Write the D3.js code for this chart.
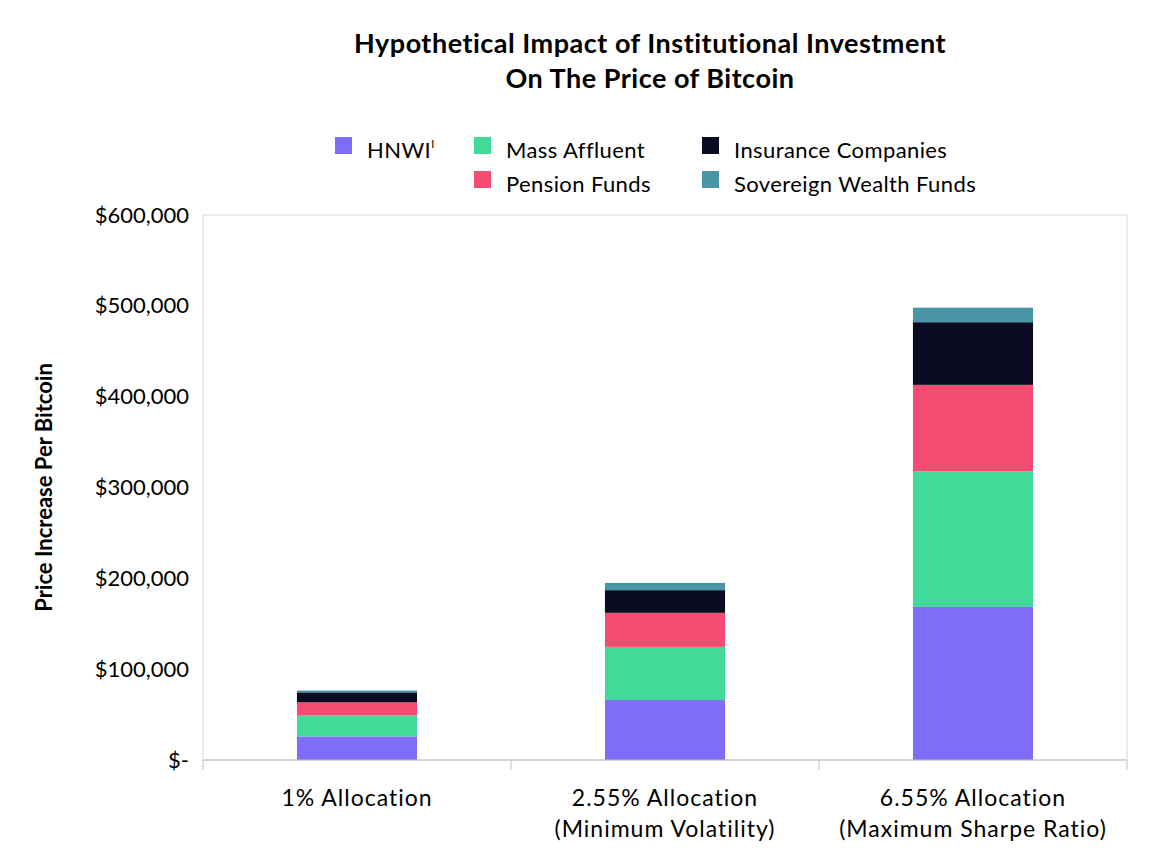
<!DOCTYPE html>
<html><head><meta charset="utf-8">
<script src="https://cdn.jsdelivr.net/npm/d3@7"></script>
<style>body{margin:0;background:#fff;font-family:Lato,"Open Sans",sans-serif}</style>
</head><body><svg id="chart" width="1154" height="866"></svg>
<script>
// chart values
var categories = ['1% Allocation', '2.55% Allocation\n(Minimum Volatility)', '6.55% Allocation\n(Maximum Sharpe Ratio)'];
var seriesNames = ['HNWI', 'Mass Affluent', 'Pension Funds', 'Insurance Companies', 'Sovereign Wealth Funds'];
var seriesColors = ['#7f6cf7', '#43d998', '#f54d72', '#0b0c22', '#4a96a8'];
var hnwi       = [26000, 66000, 168500];
var massAff    = [23000, 58500, 149500];
var pension    = [14500, 37500, 95000];
var insurance  = [11000, 25000, 69000];
var sovereign  = [2000, 8000, 16000];
var yTicks = [0, 100000, 200000, 300000, 400000, 500000, 600000];

(function () {
var svg = d3.select('#chart');
var pLeft = 203, pRight = 1127, pTop = 215, pBottom = 760;

var rows = categories.map((c, i) => ({cat: c, HNWI: hnwi[i], 'Mass Affluent': massAff[i],
  'Pension Funds': pension[i], 'Insurance Companies': insurance[i], 'Sovereign Wealth Funds': sovereign[i]}));
var stacked = d3.stack().keys(seriesNames)(rows);

var x = d3.scaleBand().domain(categories).range([pLeft, pRight]).paddingInner(0.61).paddingOuter(0.305);
var y = d3.scaleLinear().domain([0, 600000]).range([pBottom, pTop]);

// frame
svg.append('rect').attr('x', pLeft).attr('y', pTop).attr('width', pRight - pLeft).attr('height', pBottom - pTop)
  .attr('fill', 'none').attr('stroke', '#d9d9d9');

// bars
svg.selectAll('g.series').data(stacked).enter().append('g')
    .attr('fill', (d, i) => seriesColors[i])
  .selectAll('rect').data(d => d).enter().append('rect')
    .attr('x', d => x(d.data.cat))
    .attr('width', x.bandwidth())
    .attr('y', d => y(d[1]))
    .attr('height', d => y(d[0]) - y(d[1]));

// y axis
var yAxis = d3.axisLeft(y).tickValues(yTicks).tickSize(0).tickPadding(14)
  .tickFormat(d => d === 0 ? '$-' : '$' + d3.format(',')(d));
svg.append('g').attr('transform', 'translate(' + pLeft + ',0)').call(yAxis)
  .call(g => g.select('.domain').remove())
  .selectAll('text').attr('font-size', 22).attr('fill', '#000').attr('font-family', 'Lato, sans-serif');

// x axis line and ticks
svg.append('g').attr('transform', 'translate(0,' + pBottom + ')').call(d3.axisBottom(x).tickSize(0).tickFormat(''))
  .call(g => g.select('.domain').attr('stroke', '#bfbfbf').attr('d', 'M' + pLeft + ',0H' + pRight));
var sep = [pLeft, pLeft + 308, pLeft + 616, pRight];
svg.selectAll('line.sep').data(sep).enter().append('line')
  .attr('x1', d => d).attr('x2', d => d).attr('y1', pBottom).attr('y2', pBottom + 10).attr('stroke', '#bfbfbf');

svg.selectAll('text.cat').data(categories).enter().append('text')
  .attr('text-anchor', 'middle').attr('font-size', 23).attr('font-family', 'Lato, sans-serif')
  .attr('letter-spacing', 1)
  .each(function (d) {
    var t = d3.select(this);
    d.split('\n').forEach((line, i) => {
      t.append('tspan').attr('x', x(d) + x.bandwidth() / 2).attr('y', 806 + i * 31).text(line);
    });
  });

// y title
svg.append('text').attr('transform', 'translate(52,' + (pTop + pBottom) / 2 + ') rotate(-90)')
  .attr('text-anchor', 'middle').attr('font-size', 22).attr('font-weight', 'bold')
  .text('Price Increase Per Bitcoin');

// title
svg.append('text').attr('x', 650).attr('y', 53).attr('text-anchor', 'middle').attr('letter-spacing', 0.5)
  .attr('font-size', 27).attr('font-weight', 'bold').text('Hypothetical Impact of Institutional Investment');
svg.append('text').attr('x', 650).attr('y', 88).attr('text-anchor', 'middle').attr('letter-spacing', 0.5)
  .attr('font-size', 27).attr('font-weight', 'bold').text('On The Price of Bitcoin');

// legend
var legPos = [[335, 150], [474, 150], [474, 184], [702, 150], [702, 184]];
var leg = svg.selectAll('g.leg').data([0, 1, 2, 3, 4]).enter().append('g')
  .attr('transform', i => 'translate(' + legPos[i][0] + ',' + legPos[i][1] + ')');
leg.append('rect').attr('x', 0).attr('y', -13).attr('width', 17).attr('height', 17)
  .attr('fill', i => seriesColors[i]);
leg.append('text').attr('x', 32).attr('y', 8).attr('font-size', 22).attr('letter-spacing', 0.4)
  .text(i => seriesNames[i])
  .filter(i => i === 0).append('tspan').attr('font-size', 11).attr('dy', -10).text('I');
})();
</script></body></html>
